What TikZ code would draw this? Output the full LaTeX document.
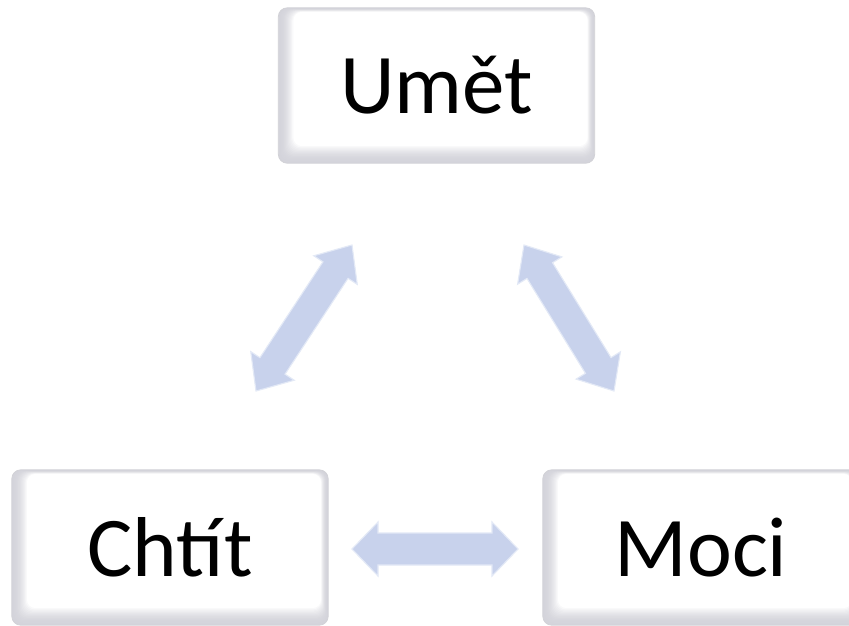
\documentclass[tikz,border=0pt]{standalone}
\usepackage{fontspec}
\setmainfont{Carlito}
\usetikzlibrary{calc,backgrounds}

\definecolor{arrowblue}{HTML}{C8D2EC}
\definecolor{arrowedge}{HTML}{E3E9F6}
\definecolor{bevelgray}{HTML}{D4D4DB}
\definecolor{boxframe}{HTML}{D2D2D7}

\tikzset{
  termbox/.style={minimum width=316pt, minimum height=155pt, inner sep=0pt,
                  font=\fontsize{85}{100}\selectfont},
  fatarrow/.style={fill=arrowblue, draw=arrowedge, line width=1.1pt, line join=miter},
}

% soft bevelled face behind a box node
\newcommand\bevelbox[1]{%
  \begin{pgfonlayer}{background}
    \foreach \k in {0,...,14}{
      \pgfmathsetmacro\t{\k/14}
      \pgfmathtruncatemacro\p{100*\t*\t}
      \fill[white!\p!bevelgray, rounded corners=9pt]
        ($(#1.south west)+(15*\t,-17*\t)$) rectangle ($(#1.north east)+(-7*\t,4*\t)$);
    }
    \draw[boxframe, line width=0.8pt, rounded corners=9pt]
      (#1.south west) rectangle (#1.north east);
  \end{pgfonlayer}%
}

% double-headed block arrow between two named points
% #1,#2 ends, #3 head length, #4 half head width, #5 half shaft width
\newcommand\blockarrow[5]{%
  \filldraw[fatarrow]
    (#1)
    -- ($(#1)!#3!(#2)!#4!90:(#2)$)
    -- ($(#1)!#3!(#2)!#5!90:(#2)$)
    -- ($(#2)!#3!(#1)!#5!-90:(#1)$)
    -- ($(#2)!#3!(#1)!#4!-90:(#1)$)
    -- (#2)
    -- ($(#2)!#3!(#1)!#4!90:(#1)$)
    -- ($(#2)!#3!(#1)!#5!90:(#1)$)
    -- ($(#1)!#3!(#2)!#5!-90:(#2)$)
    -- ($(#1)!#3!(#2)!#4!-90:(#2)$)
    -- cycle;
}

\begin{document}
\begin{tikzpicture}[x=1pt, y=-1pt]
  \begin{pgfonlayer}{background}
    \fill[white] (0,0) rectangle (849,625);
  \end{pgfonlayer}
  \useasboundingbox (0,0) rectangle (849,625);

  \node[termbox] (umet)  at (436.5,85.5) {Umět};
  \node[termbox] (chtit) at (170,547.5)  {Chtít};
  \node[termbox] (moci)  at (701,547.5)  {Moci};

  \bevelbox{umet}
  \bevelbox{chtit}
  \bevelbox{moci}

  \coordinate (l1) at (256,391);
  \coordinate (l2) at (352,245);
  \coordinate (r1) at (524,245);
  \coordinate (r2) at (614,391);
  \coordinate (h1) at (352,549);
  \coordinate (h2) at (518,549);

  \blockarrow{l1}{l2}{30pt}{26pt}{15pt}
  \blockarrow{r1}{r2}{30pt}{26pt}{15pt}
  \blockarrow{h1}{h2}{26pt}{27pt}{16pt}
\end{tikzpicture}
\end{document}
